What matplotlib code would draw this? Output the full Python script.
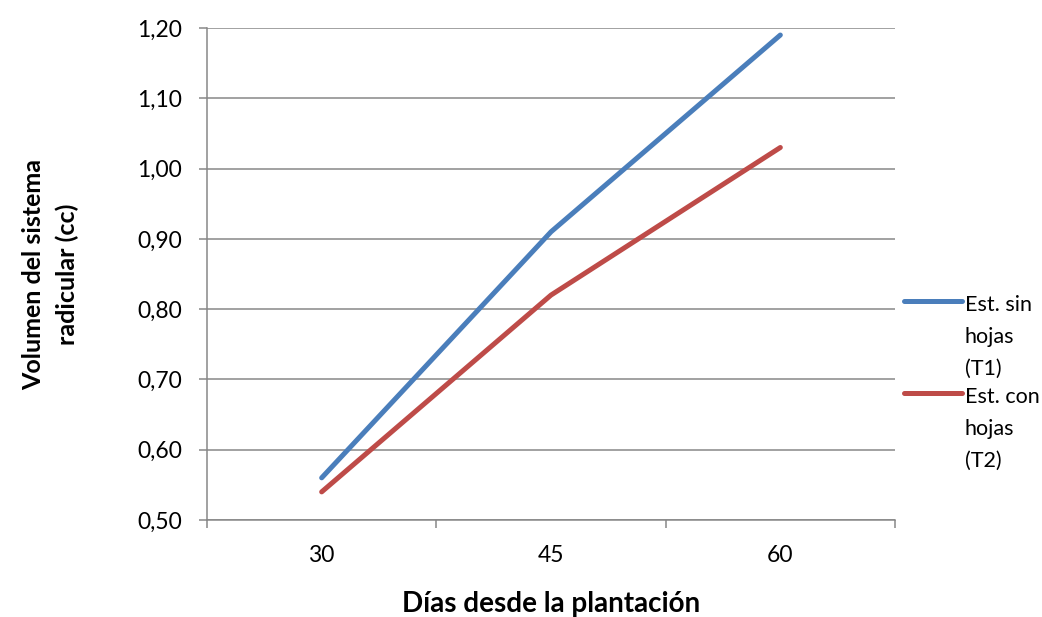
import matplotlib.pyplot as plt
from matplotlib.legend_handler import HandlerLine2D
from matplotlib.ticker import FuncFormatter, FixedLocator
import numpy as np

plt.rcParams['font.family'] = ['Lato', 'DejaVu Sans']

dias = ['30', '45', '60']
t1 = [0.56, 0.91, 1.19]
t2 = [0.54, 0.82, 1.03]
series = ['Est. sin\nhojas\n(T1)', 'Est. con\nhojas\n(T2)']
colors = ['#4A7EBB', '#BE4B48']
grey = '#878787'
FS = 16.5
LEG_FS = 15.5
LSP = 1.75


class TopLine(HandlerLine2D):
    # put the legend line next to the first text line, like Excel does
    def create_artists(self, legend, orig_handle, xdescent, ydescent,
                       width, height, fontsize, trans):
        arts = super().create_artists(legend, orig_handle, xdescent, ydescent,
                                      width, height, fontsize, trans)
        for a in arts:
            a.set_ydata(np.asarray(a.get_ydata()) + LSP * fontsize * 0.97)
        return arts


fig = plt.figure(figsize=(10.42, 6.17), dpi=100)
ax = fig.add_axes([207 / 1042, 1 - 520 / 617, (895 - 207) / 1042, (520 - 28) / 617])

x = np.arange(len(dias))
for vals, lab, col in zip([t1, t2], series, colors):
    ax.plot(x, vals, color=col, lw=3.6, label=lab, solid_capstyle='round')

ax.set_xlim(-0.5, len(dias) - 0.5)
ax.set_ylim(0.5, 1.2)
ax.set_yticks(np.arange(0.5, 1.201, 0.1))
ax.yaxis.set_major_formatter(FuncFormatter(lambda v, p: f'{v:.2f}'.replace('.', ',')))
ax.grid(axis='y', color=grey, lw=1.1)
ax.set_axisbelow(True)

ax.set_xticks(x)
ax.set_xticklabels(dias)
ax.xaxis.set_minor_locator(FixedLocator(np.arange(-0.5, len(dias), 1.0)))
ax.tick_params(axis='x', which='major', length=0, pad=18, labelsize=FS)
ax.tick_params(axis='x', which='minor', length=6, width=1.1, color=grey, direction='out')
ax.tick_params(axis='y', length=6, width=1.1, color=grey, pad=12, labelsize=FS)

for s in ['top', 'right']:
    ax.spines[s].set_visible(False)
for s in ['left', 'bottom']:
    ax.spines[s].set_color(grey)
    ax.spines[s].set_linewidth(1.1)

ax.set_xlabel('Días desde la plantación', fontsize=20, fontweight='bold', va='top')
ax.xaxis.set_label_coords(0.5, (520 - 591) / 492)
ax.set_ylabel('Volumen del sistema\nradicular (cc)', fontsize=18, fontweight='bold',
              linespacing=1.55)
ax.yaxis.set_label_coords((79 - 207) / 688, 0.5)

leg = ax.legend(loc='upper left', bbox_to_anchor=(1.0, 0.475), frameon=False,
                fontsize=LEG_FS, handlelength=2.7, handletextpad=0.15,
                labelspacing=0.38, borderaxespad=0,
                handler_map={plt.Line2D: TopLine()})
for t in leg.get_texts():
    t.set_linespacing(LSP)

fig.savefig('out.png', dpi=100)
